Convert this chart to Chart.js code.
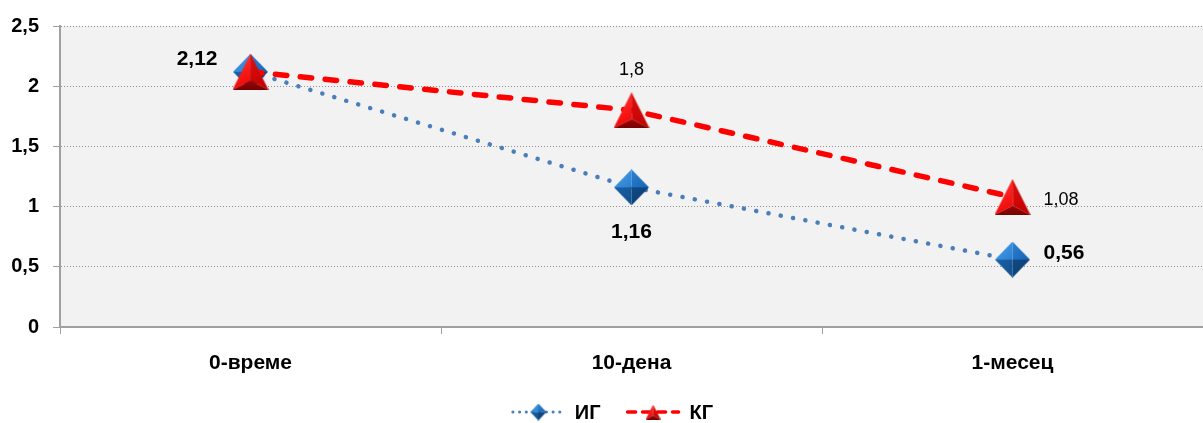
<!DOCTYPE html>
<html>
<head>
<meta charset="utf-8">
<script src="https://cdn.jsdelivr.net/npm/chart.js@4.4.1/dist/chart.umd.min.js"></script>
<style>
  html, body { margin: 0; padding: 0; background: #ffffff; }
  #wrap { width: 1203px; height: 423px; }
</style>
</head>
<body>
<div id="wrap"><canvas id="chart" width="1203" height="423"></canvas></div>
<script>
// Categories, series values and axis tick labels
const categories = ['0-време', '10-дена', '1-месец'];
const seriesNames = ['ИГ', 'КГ'];
const igValues = [2.12, 1.16, 0.56];
const kgValues = [2.12, 1.8, 1.08];
const yTickLabels = ['0', '0,5', '1', '1,5', '2', '2,5'];

const FONT = '"Liberation Sans", Arial, sans-serif';

// Value label placement for each point (null = no label)
const igLabelPlaces = [
  { align: 'right', dx: -33, dy: -13 },
  { align: 'center', dx: 0, dy: 45 },
  { align: 'left', dx: 31, dy: -6 }
];
const kgLabelPlaces = [
  null,
  { align: 'center', dx: 0, dy: -40 },
  { align: 'left', dx: 31, dy: 3 }
];

// ---- marker images -------------------------------------------------------
function poly(g, pts, fill) {
  g.beginPath();
  g.moveTo(pts[0][0], pts[0][1]);
  for (let i = 1; i < pts.length; i++) g.lineTo(pts[i][0], pts[i][1]);
  g.closePath();
  g.fillStyle = fill;
  g.fill();
}

function diamondMarker(w, h) {
  const c = document.createElement('canvas');
  c.width = w; c.height = h;
  const g = c.getContext('2d');
  const cx = w / 2, cy = h / 2;
  let gr = g.createLinearGradient(0, 0, cx, cy);
  gr.addColorStop(0, '#4aa0ea'); gr.addColorStop(1, '#2a7fd0');
  poly(g, [[cx, 0], [0, cy], [cx, cy]], gr);
  gr = g.createLinearGradient(cx, 0, w, cy);
  gr.addColorStop(0, '#2c80d2'); gr.addColorStop(1, '#1764b4');
  poly(g, [[cx, 0], [w, cy], [cx, cy]], gr);
  gr = g.createLinearGradient(0, cy, cx, h);
  gr.addColorStop(0, '#1a62a8'); gr.addColorStop(1, '#124e8c');
  poly(g, [[0, cy], [cx, h], [cx, cy]], gr);
  gr = g.createLinearGradient(cx, cy, w, h);
  gr.addColorStop(0, '#104a86'); gr.addColorStop(1, '#0b3c70');
  poly(g, [[w, cy], [cx, h], [cx, cy]], gr);
  return c;
}

function triangleMarker(w, h) {
  const c = document.createElement('canvas');
  c.width = w; c.height = h;
  const g = c.getContext('2d');
  const cx = w / 2;
  const inner = [cx * 1.02, h * 0.74];
  let gr = g.createLinearGradient(0, 0, cx, h);
  gr.addColorStop(0, '#ff3a3a'); gr.addColorStop(1, '#f00000');
  poly(g, [[cx, 0], [0, h], inner], gr);
  gr = g.createLinearGradient(cx, 0, w, h);
  gr.addColorStop(0, '#e01010'); gr.addColorStop(1, '#c00000');
  poly(g, [[cx, 0], inner, [w, h]], gr);
  gr = g.createLinearGradient(0, h * 0.74, 0, h);
  gr.addColorStop(0, '#9a0808'); gr.addColorStop(1, '#7a0000');
  poly(g, [[0, h], inner, [w, h]], gr);
  return c;
}

const igMarker = diamondMarker(35, 36);
const kgMarker = triangleMarker(36, 36);
const igLegendMarker = diamondMarker(16, 17);
const kgLegendMarker = triangleMarker(15, 15);

// ---- plugins ------------------------------------------------------------
const plotBackground = {
  id: 'plotBackground',
  beforeDraw(chart) {
    const { ctx, chartArea: a } = chart;
    ctx.save();
    ctx.fillStyle = '#f2f2f2';
    ctx.fillRect(a.left, a.top, a.right - a.left, a.bottom - a.top);
    ctx.restore();
  }
};

const labelPlaces = [igLabelPlaces, kgLabelPlaces];
const labelFonts = ['bold 21px ' + FONT, '18px ' + FONT];

const valueLabels = {
  id: 'valueLabels',
  afterDatasetsDraw(chart) {
    const ctx = chart.ctx;
    chart.data.datasets.forEach((ds, di) => {
      const meta = chart.getDatasetMeta(di);
      meta.data.forEach((pt, i) => {
        const p = labelPlaces[di][i];
        if (!p) return;
        ctx.save();
        ctx.font = labelFonts[di];
        ctx.fillStyle = '#000000';
        ctx.textAlign = p.align;
        ctx.textBaseline = 'middle';
        ctx.fillText(String(ds.data[i]).replace('.', ','), pt.x + p.dx, pt.y + p.dy);
        ctx.restore();
      });
    });
  }
};

const legendMarkers = [igLegendMarker, kgLegendMarker];
const legendDash = [[0.1, 6.6], [8, 7]];
const legendWidth = [3, 3.5];

const lineLegend = {
  id: 'lineLegend',
  afterDraw(chart) {
    const ctx = chart.ctx;
    const lineLen = 55, gap = 9, spacing = 25, y = 412;
    ctx.save();
    ctx.font = 'bold 20px ' + FONT;
    const items = chart.data.datasets.map((ds, i) => ({
      ds, i, tw: ctx.measureText(ds.label).width
    }));
    const total = items.reduce((s, it) => s + lineLen + gap + it.tw, 0) + spacing * (items.length - 1);
    let x = 612 - total / 2;
    items.forEach(it => {
      ctx.save();
      ctx.strokeStyle = it.ds.borderColor;
      ctx.lineWidth = legendWidth[it.i];
      ctx.lineCap = 'round';
      ctx.setLineDash(legendDash[it.i]);
      ctx.beginPath();
      ctx.moveTo(x + 2, y);
      ctx.lineTo(x + lineLen - 2, y);
      ctx.stroke();
      ctx.restore();
      const m = legendMarkers[it.i];
      ctx.drawImage(m, x + lineLen / 2 - m.width / 2, y - m.height / 2);
      ctx.fillStyle = '#000000';
      ctx.textAlign = 'left';
      ctx.textBaseline = 'middle';
      ctx.fillText(it.ds.label, x + lineLen + gap, y + 1);
      x += lineLen + gap + it.tw + spacing;
    });
    ctx.restore();
  }
};

// ---- chart ----------------------------------------------------------------
new Chart(document.getElementById('chart'), {
  type: 'line',
  data: {
    labels: categories,
    datasets: [
      {
        label: seriesNames[0],
        data: igValues,
        order: 1,
        borderColor: '#4a7ebb',
        borderWidth: 4.5,
        borderDash: [0.1, 12.4],
        borderCapStyle: 'round',
        tension: 0,
        pointStyle: igMarker,
        pointRadius: 17,
        pointHoverRadius: 17
      },
      {
        label: seriesNames[1],
        data: kgValues,
        order: 0,
        borderColor: '#ff0000',
        borderWidth: 5.5,
        borderDash: [11.5, 13.5],
        borderCapStyle: 'round',
        tension: 0,
        pointStyle: kgMarker,
        pointRadius: 18,
        pointHoverRadius: 18
      }
    ]
  },
  options: {
    responsive: false,
    animation: false,
    devicePixelRatio: 1,
    layout: { autoPadding: false, padding: { top: 21, right: 0, bottom: 0, left: 0 } },
    plugins: {
      legend: { display: false },
      tooltip: { enabled: false }
    },
    scales: {
      x: {
        offset: true,
        afterFit(s) { s.height = 96; s.paddingLeft = 0; s.paddingRight = 0; },
        ticks: {
          padding: 17,
          color: '#000000',
          font: { family: FONT, size: 21, weight: 'bold' }
        },
        grid: {
          offset: true,
          drawOnChartArea: false,
          drawTicks: true,
          tickLength: 7,
          color: '#a0a0a0',
          tickColor: '#a0a0a0',
          lineWidth: 1
        },
        border: { color: '#a0a0a0', width: 2 }
      },
      y: {
        min: 0,
        max: 2.5,
        afterFit(s) { s.width = 60; },
        ticks: {
          stepSize: 0.5,
          padding: 14,
          color: '#000000',
          font: { family: FONT, size: 20, weight: 'bold' },
          callback: (v) => yTickLabels[Math.round(v * 2)]
        },
        grid: {
          color: '#8f8f8f',
          lineWidth: 1,
          tickLength: 7,
          tickColor: '#a0a0a0',
          tickBorderDash: []
        },
        border: { color: '#a0a0a0', width: 2, dash: [1, 2] }
      }
    }
  },
  plugins: [plotBackground, valueLabels, lineLegend]
});
</script>
</body>
</html>
